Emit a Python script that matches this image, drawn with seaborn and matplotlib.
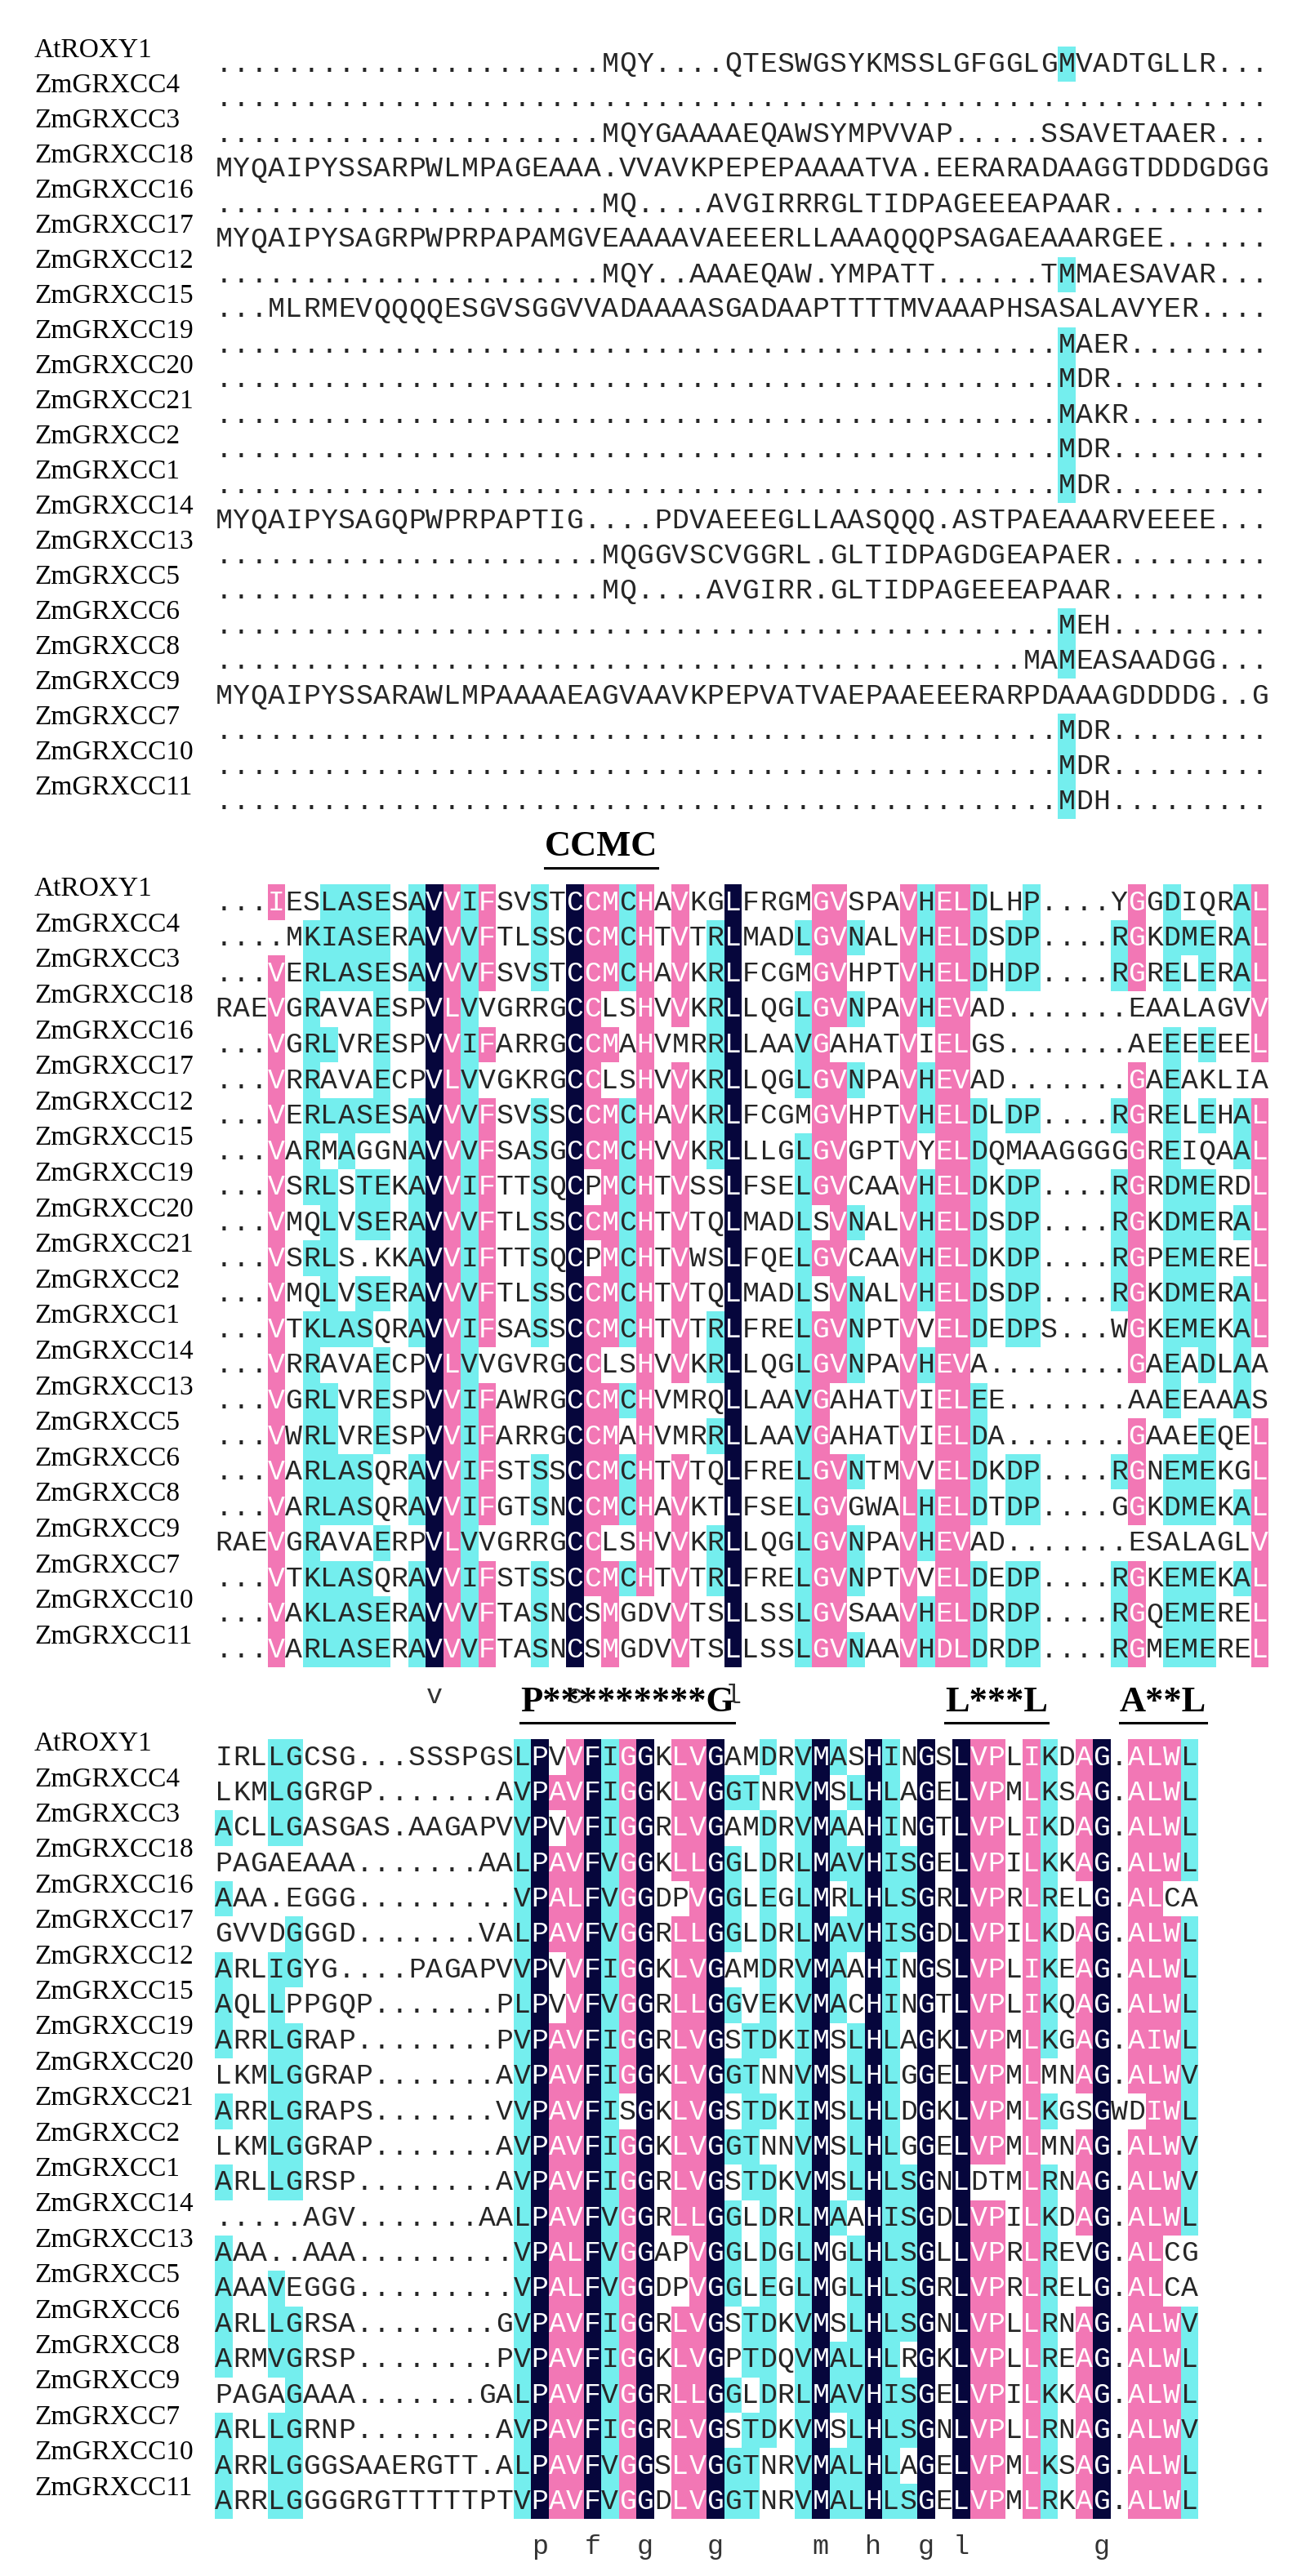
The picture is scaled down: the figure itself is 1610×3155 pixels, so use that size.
import numpy as np
import matplotlib
matplotlib.use("Agg")
import matplotlib.pyplot as plt
from matplotlib.colors import ListedColormap
from matplotlib.lines import Line2D
import seaborn as sns

names = ["AtROXY1", "ZmGRXCC4", "ZmGRXCC3", "ZmGRXCC18", "ZmGRXCC16", "ZmGRXCC17",
         "ZmGRXCC12", "ZmGRXCC15", "ZmGRXCC19", "ZmGRXCC20", "ZmGRXCC21", "ZmGRXCC2",
         "ZmGRXCC1", "ZmGRXCC14", "ZmGRXCC13", "ZmGRXCC5", "ZmGRXCC6", "ZmGRXCC8",
         "ZmGRXCC9", "ZmGRXCC7", "ZmGRXCC10", "ZmGRXCC11"]

block1 = [
    "......................MQY....QTESWGSYKMSSLGFGGLGMVADTGLLR...",
    "............................................................",
    "......................MQYGAAAAEQAWSYMPVVAP.....SSAVETAAER...",
    "MYQAIPYSSARPWLMPAGEAAA.VVAVKPEPEPAAAATVA.EERARADAAGGTDDDGDGG",
    "......................MQ....AVGIRRRGLTIDPAGEEEAPAAR.........",
    "MYQAIPYSAGRPWPRPAPAMGVEAAAAVAEEERLLAAAQQQPSAGAEAAARGEE......",
    "......................MQY..AAAEQAW.YMPATT......TMMAESAVAR...",
    "...MLRMEVQQQQESGVSGGVVADAAAASGADAAPTTTTMVAAAPHSASALAVYER....",
    "................................................MAER........",
    "................................................MDR.........",
    "................................................MAKR........",
    "................................................MDR.........",
    "................................................MDR.........",
    "MYQAIPYSAGQPWPRPAPTIG....PDVAEEEGLLAASQQQ.ASTPAEAAARVEEEE...",
    "......................MQGGVSCVGGRL.GLTIDPAGDGEAPAER.........",
    "......................MQ....AVGIRR.GLTIDPAGEEEAPAAR.........",
    "................................................MEH.........",
    "..............................................MAMEASAADGG...",
    "MYQAIPYSSARAWLMPAAAAEAGVAAVKPEPVATVAEPAAEEERARPDAAAGDDDDG..G",
    "................................................MDR.........",
    "................................................MDR.........",
    "................................................MDH.........",
]

block2 = [
    "...IESLASESAVVIFSVSTCCMCHAVKGLFRGMGVSPAVHELDLHP....YGGDIQRAL",
    "....MKIASERAVVVFTLSSCCMCHTVTRLMADLGVNALVHELDSDP....RGKDMERAL",
    "...VERLASESAVVVFSVSTCCMCHAVKRLFCGMGVHPTVHELDHDP....RGRELERAL",
    "RAEVGRAVAESPVLVVGRRGCCLSHVVKRLLQGLGVNPAVHEVAD.......EAALAGVV",
    "...VGRLVRESPVVIFARRGCCMAHVMRRLLAAVGAHATVIELGS.......AEEEEEEL",
    "...VRRAVAECPVLVVGKRGCCLSHVVKRLLQGLGVNPAVHEVAD.......GAEAKLIA",
    "...VERLASESAVVVFSVSSCCMCHAVKRLFCGMGVHPTVHELDLDP....RGRELEHAL",
    "...VARMAGGNAVVVFSASGCCMCHVVKRLLLGLGVGPTVYELDQMAAGGGGGREIQAAL",
    "...VSRLSTEKAVVIFTTSQCPMCHTVSSLFSELGVCAAVHELDKDP....RGRDMERDL",
    "...VMQLVSERAVVVFTLSSCCMCHTVTQLMADLSVNALVHELDSDP....RGKDMERAL",
    "...VSRLS.KKAVVIFTTSQCPMCHTVWSLFQELGVCAAVHELDKDP....RGPEMEREL",
    "...VMQLVSERAVVVFTLSSCCMCHTVTQLMADLSVNALVHELDSDP....RGKDMERAL",
    "...VTKLASQRAVVIFSASSCCMCHTVTRLFRELGVNPTVVELDEDPS...WGKEMEKAL",
    "...VRRAVAECPVLVVGVRGCCLSHVVKRLLQGLGVNPAVHEVA........GAEADLAA",
    "...VGRLVRESPVVIFAWRGCCMCHVMRQLLAAVGAHATVIELEE.......AAEEAAAS",
    "...VWRLVRESPVVIFARRGCCMAHVMRRLLAAVGAHATVIELDA.......GAAEEQEL",
    "...VARLASQRAVVIFSTSSCCMCHTVTQLFRELGVNTMVVELDKDP....RGNEMEKGL",
    "...VARLASQRAVVIFGTSNCCMCHAVKTLFSELGVGWALHELDTDP....GGKDMEKAL",
    "RAEVGRAVAERPVLVVGRRGCCLSHVVKRLLQGLGVNPAVHEVAD.......ESALAGLV",
    "...VTKLASQRAVVIFSTSSCCMCHTVTRLFRELGVNPTVVELDEDP....RGKEMEKAL",
    "...VAKLASERAVVVFTASNCSMGDVVTSLLSSLGVSAAVHELDRDP....RGQEMEREL",
    "...VARLASERAVVVFTASNCSMGDVVTSLLSSLGVNAAVHDLDRDP....RGMEMEREL",
]

block3 = [
    "IRLLGCSG...SSSPGSLPVVFIGGKLVGAMDRVMASHINGSLVPLIKDAG.ALWL",
    "LKMLGGRGP.......AVPAVFIGGKLVGGTNRVMSLHLAGELVPMLKSAG.ALWL",
    "ACLLGASGAS.AAGAPVVPVVFIGGRLVGAMDRVMAAHINGTLVPLIKDAG.ALWL",
    "PAGAEAAA.......AALPAVFVGGKLLGGLDRLMAVHISGELVPILKKAG.ALWL",
    "AAA.EGGG.........VPALFVGGDPVGGLEGLMRLHLSGRLVPRLRELG.ALCA",
    "GVVDGGGD.......VALPAVFVGGRLLGGLDRLMAVHISGDLVPILKDAG.ALWL",
    "ARLIGYG....PAGAPVVPVVFIGGKLVGAMDRVMAAHINGSLVPLIKEAG.ALWL",
    "AQLLPPGQP.......PLPVVFVGGRLLGGVEKVMACHINGTLVPLIKQAG.ALWL",
    "ARRLGRAP........PVPAVFIGGRLVGSTDKIMSLHLAGKLVPMLKGAG.AIWL",
    "LKMLGGRAP.......AVPAVFIGGKLVGGTNNVMSLHLGGELVPMLMNAG.ALWV",
    "ARRLGRAPS.......VVPAVFISGKLVGSTDKIMSLHLDGKLVPMLKGSGWDIWL",
    "LKMLGGRAP.......AVPAVFIGGKLVGGTNNVMSLHLGGELVPMLMNAG.ALWV",
    "ARLLGRSP........AVPAVFIGGRLVGSTDKVMSLHLSGNLDTMLRNAG.ALWV",
    ".....AGV.......AALPAVFVGGRLLGGLDRLMAAHISGDLVPILKDAG.ALWL",
    "AAA..AAA.........VPALFVGGAPVGGLDGLMGLHLSGLLVPRLREVG.ALCG",
    "AAAVEGGG.........VPALFVGGDPVGGLEGLMGLHLSGRLVPRLRELG.ALCA",
    "ARLLGRSA........GVPAVFIGGRLVGSTDKVMSLHLSGNLVPLLRNAG.ALWV",
    "ARMVGRSP........PVPAVFIGGKLVGPTDQVMALHLRGKLVPLLREAG.ALWL",
    "PAGAGAAA.......GALPAVFVGGRLLGGLDRLMAVHISGELVPILKKAG.ALWL",
    "ARLLGRNP........AVPAVFIGGRLVGSTDKVMSLHLSGNLVPLLRNAG.ALWV",
    "ARRLGGGSAAERGTT.ALPAVFVGGSLVGGTNRVMALHLAGELVPMLKSAG.ALWL",
    "ARRLGGGGRGTTTTTPTVPAVFVGGDLVGGTNRVMALHLSGELVPMLRKAG.ALWL",
]

# motif labels: (text, first column, last column)
motifs2 = [("CCMC", 20, 23)]
motifs3 = [("P*********G", 18, 28), ("L***L", 42, 46), ("A**L", 52, 55)]

groups = [set("ILV"), set("FYW"), set("KR"), set("DE"), set("ST"), set("NQ")]


def similar(a, b):
    return a == b or any(a in g and b in g for g in groups)


def levels(block):
    n = len(block)
    width = max(len(s) for s in block)
    rows = [s.ljust(width, ".") for s in block]
    lev = np.zeros((n, width))
    cons = [""] * width
    for j in range(width):
        col = [r[j] for r in rows]
        res = [c for c in col if c != "."]
        if not res:
            continue
        top = max(set(res), key=res.count)
        frac = res.count(top) / n
        if frac == 1.0:
            lev[:, j] = 3
            cons[j] = top.lower()
            continue
        level = 2 if frac >= 0.75 else (1 if frac >= 0.5 else 0)
        for i, c in enumerate(col):
            if c != "." and similar(c, top):
                lev[i, j] = level
    letters = np.array([list(r) for r in rows])
    return lev, letters, cons


cmap = ListedColormap(["#ffffff", "#74eeee", "#f277b5", "#06063c"])

W, H = 1610, 3155
fig = plt.figure(figsize=(W / 100, H / 100), dpi=100)

x0 = 263
cw = 21.5
blocks = [(block1, 78, 43.0, []), (block2, 1105, 43.6, motifs2), (block3, 2152, 43.4, motifs3)]

for block, y0, pitch, motifs in blocks:
    lev, letters, cons = levels(block)
    nrow, ncol = lev.shape
    top = y0 - pitch / 2
    ax = fig.add_axes([x0 / W, 1 - (top + nrow * pitch) / H, ncol * cw / W, nrow * pitch / H])
    sns.heatmap(lev, ax=ax, cmap=cmap, vmin=-0.5, vmax=3.5, cbar=False,
                annot=letters, fmt="", xticklabels=False, yticklabels=False,
                annot_kws={"fontsize": 25, "family": "Liberation Mono"})
    ax.set_facecolor("white")

    for i, name in enumerate(names):
        fig.text(42 / W, 1 - (y0 + i * pitch - 16) / H, name, fontsize=24,
                 family="Liberation Serif", va="center", ha="left")

    for j, c in enumerate(cons):
        if c:
            ax.text(j + 0.5, nrow + 0.8, c, ha="center", va="center", fontsize=24,
                    family="Liberation Mono", color="#333333", clip_on=False)

    for text, c1, c2 in motifs:
        t = ax.text((c1 + c2 + 1) / 2, -1.05, text, ha="center", va="center", fontsize=32,
                    family="Liberation Serif", weight="bold", clip_on=False)
        fig.canvas.draw()
        bb = t.get_window_extent()
        uy = 1 - (top - 0.47 * pitch) / H
        fig.add_artist(Line2D([bb.x0 / W, bb.x1 / W], [uy, uy], color="black", lw=2.2))

fig.savefig("out.png", dpi=100, facecolor="white")
